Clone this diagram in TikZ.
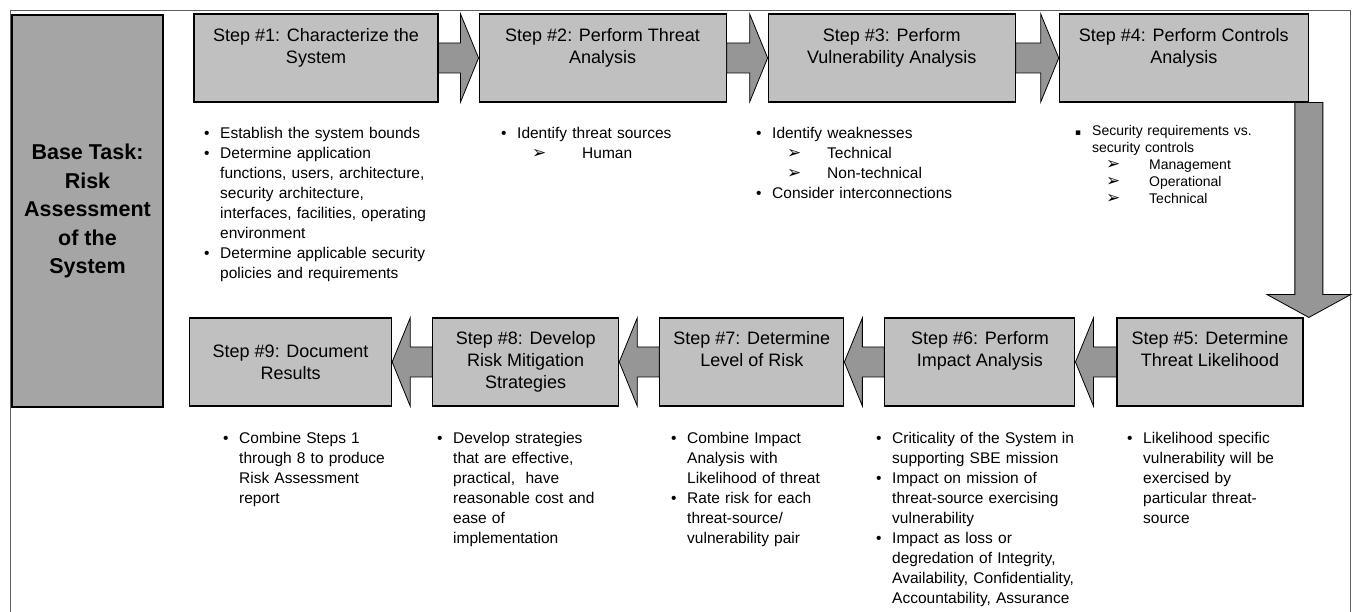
\documentclass[tikz,border=0pt]{standalone}
\usepackage{fontspec}
\setmainfont{Liberation Sans}
\newfontfamily\symfont{DejaVu Sans}
\usetikzlibrary{positioning,calc}
\definecolor{boxgray}{RGB}{192,192,192}
\definecolor{basegray}{RGB}{165,165,165}
\definecolor{arrowgray}{RGB}{150,150,150}
\definecolor{framegray}{RGB}{95,95,95}

% bullet list helpers
\newlength{\bulind}
\setlength{\bulind}{16pt}
\newcommand{\bul}{\par\hangindent=\bulind\hangafter=1\noindent\hbox to \bulind{\strut\textbullet\hfil}}
\newcommand{\sqbul}{\par\hangindent=17pt\hangafter=1\noindent\hbox to 17pt{\strut{\symfont\fontsize{9}{17}\selectfont ▪}\hfil}}
\newcommand{\arritem}[2][40pt]{\par\noindent\hbox to 31pt{\strut\hfil}\hbox to #1{{\symfont\fontsize{17}{17}\selectfont ➢}\hfil}#2}

% fat block arrows between boxes
\newcommand{\fatright}[2]{%
  \draw[fatarr] let \p1=(#1.east), \p2=(#2.west) in
    (\x1,\y1+15pt) -- (\x2-18pt,\y1+15pt) -- (\x2-18pt,\y1+44pt) -- (\x2,\y1)
    -- (\x2-18pt,\y1-44pt) -- (\x2-18pt,\y1-15pt) -- (\x1,\y1-15pt) -- cycle;}
\newcommand{\fatleft}[2]{%
  \draw[fatarr] let \p1=(#1.west), \p2=(#2.east) in
    (\x1,\y1+15pt) -- (\x2+18pt,\y1+15pt) -- (\x2+18pt,\y1+44pt) -- (\x2,\y1)
    -- (\x2+18pt,\y1-44pt) -- (\x2+18pt,\y1-15pt) -- (\x1,\y1-15pt) -- cycle;}
\newcommand{\fatdown}[2]{%
  \draw[fatarr] let \p1=(#1.south east), \p2=(#2.north east) in
    (\x1-14pt,\y1) -- (\x1-14pt,\y2+23pt) -- (\x1-42pt,\y2+23pt) -- (\x1,\y2)
    -- (\x1+42pt,\y2+23pt) -- (\x1+14pt,\y2+23pt) -- (\x1+14pt,\y1) -- cycle;}

\begin{document}
\begin{tikzpicture}[
    x=1pt, y=-1pt,
    stepbox/.style={
        draw,
        line width=1.1pt,
        fill=boxgray,
        minimum width=#1,
        minimum height=88pt,
        inner sep=0pt
    },
    basebox/.style={
        draw,
        line width=1.4pt,
        fill=basegray,
        minimum width=151pt,
        minimum height=392pt,
        align=center,
        font=\bfseries\fontsize{21.5}{28.5}\selectfont
    },
    steptitle/.style={
        align=center,
        inner sep=0pt,
        font=\fontsize{18}{22}\selectfont
    },
    bullets/.style={
        anchor=north west,
        text width=260pt,
        align=left,
        inner sep=0pt,
        font=\fontsize{15.5}{20}\selectfont
    },
    fatarr/.style={
        draw=black,
        line width=0.8pt,
        fill=arrowgray
    }
]
\useasboundingbox (0,0) rectangle (1353,612);

% frame
\draw[framegray, line width=1pt] (10,612) |- (1350,11) -- (1350,612);

% base task
\node[basebox] (base) at (87.5,211) {Base Task:\\Risk\\Assessment\\of the\\System};

% top row
\node[stepbox=244pt] (s1) at (316,58) {};
\node[stepbox=247pt, right=40pt of s1] (s2) {};
\node[stepbox=247pt, right=41pt of s2] (s3) {};
\node[stepbox=249pt, right=43pt of s3] (s4) {};

% bottom row
\node[stepbox=186pt] (s5) at (1210,362) {};
\node[stepbox=190pt, left=41pt of s5] (s6) {};
\node[stepbox=184pt, left=40pt of s6] (s7) {};
\node[stepbox=186pt, left=40pt of s7] (s8) {};
\node[stepbox=202pt, left=40pt of s8] (s9) {};

% titles
\node[steptitle, below=14.5pt of s1.north] (t1) {Step \#1: Characterize the\\System};
\node[steptitle, below=14.5pt of s2.north] (t2) {Step \#2: Perform Threat\\Analysis};
\node[steptitle, below=14.5pt of s3.north] (t3) {Step \#3: Perform\\Vulnerability Analysis};
\node[steptitle, below=14.5pt of s4.north] (t4) {Step \#4: Perform Controls\\Analysis};
\node[steptitle, below=13.5pt of s5.north] (t5) {Step \#5: Determine\\Threat Likelihood};
\node[steptitle, below=13.5pt of s6.north] (t6) {Step \#6: Perform\\Impact Analysis};
\node[steptitle, below=13.5pt of s7.north] (t7) {Step \#7: Determine\\Level of Risk};
\node[steptitle] (t8) at (s8) {Step \#8: Develop\\Risk Mitigation\\Strategies};
\node[steptitle] (t9) at (s9) {Step \#9: Document\\Results};

% arrows
\fatright{s1}{s2}
\fatright{s2}{s3}
\fatright{s3}{s4}
\fatdown{s4}{s5}
\fatleft{s5}{s6}
\fatleft{s6}{s7}
\fatleft{s7}{s8}
\fatleft{s8}{s9}

% descriptions
\node[bullets] (b1) at (204,118.5) {%
  \bul Establish the system bounds
  \bul Determine application\newline functions, users, architecture,\newline security architecture,\newline interfaces, facilities, operating\newline environment
  \bul Determine applicable security\newline policies and requirements\par};
\node[bullets] (b2) at (501,118.5) {%
  \bul Identify threat sources
  \arritem[50pt]{Human}\par};
\node[bullets] (b3) at (756,118.5) {%
  \bul Identify weaknesses
  \arritem[40pt]{Technical}
  \arritem[40pt]{Non-technical}
  \bul Consider interconnections\par};
\node[bullets, font=\fontsize{14}{17}\selectfont] (b4) at (1075,118) {%
  \sqbul Security requirements vs.\newline security controls
  \arritem[43pt]{Management}
  \arritem[43pt]{Operational}
  \arritem[43pt]{Technical}\par};
\node[bullets] (b5) at (1127,423) {%
  \bul Likelihood specific\newline vulnerability will be\newline exercised by\newline particular threat-\newline source\par};
\node[bullets] (b6) at (876,423) {%
  \bul Criticality of the System in\newline supporting SBE mission
  \bul Impact on mission of\newline threat-source exercising\newline vulnerability
  \bul Impact as loss or\newline degredation of Integrity,\newline Availability, Confidentiality,\newline Accountability, Assurance\par};
\node[bullets] (b7) at (671,423) {%
  \bul Combine Impact\newline Analysis with\newline Likelihood of threat
  \bul Rate risk for each\newline threat-source/\newline vulnerability pair\par};
\node[bullets] (b8) at (437,423) {%
  \bul Develop strategies\newline that are effective,\newline practical,\ \ have\newline reasonable cost and\newline ease of\newline implementation\par};
\node[bullets] (b9) at (223,423) {%
  \bul Combine Steps 1\newline through 8 to produce\newline Risk Assessment\newline report\par};

\end{tikzpicture}
\end{document}
